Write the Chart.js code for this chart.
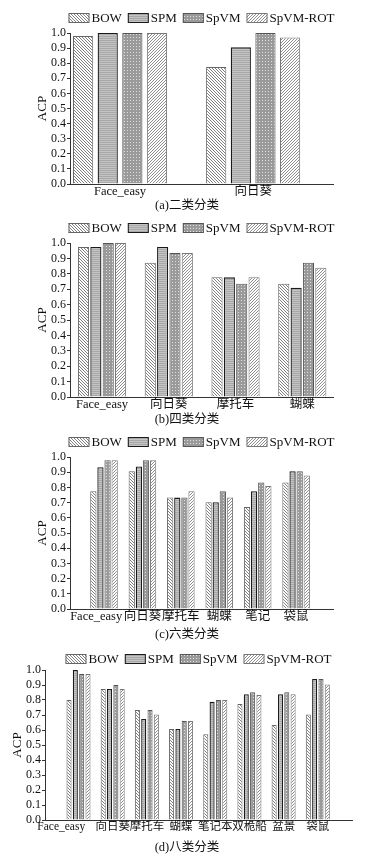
<!DOCTYPE html>
<html>
<head>
<meta charset="utf-8">
<script src="https://cdn.jsdelivr.net/npm/chart.js@4.4.0/dist/chart.umd.min.js"></script>
<style>
  html, body { margin: 0; padding: 0; background: #fff; }
  .panel { position: absolute; left: 0; width: 383px; }
</style>
</head>
<body>
<div class="panel" style="top:0;height:215px"><canvas id="chartA"></canvas></div>
<div class="panel" style="top:215px;height:215px"><canvas id="chartB"></canvas></div>
<div class="panel" style="top:430px;height:215px"><canvas id="chartC"></canvas></div>
<div class="panel" style="top:645px;height:216px"><canvas id="chartD"></canvas></div>
<script>
const seriesNames = ['BOW', 'SPM', 'SpVM', 'SpVM-ROT']

// (a) 二类分类
const catsA = ['Face_easy', '向日葵']
const bowA = [0.98, 0.775]
const spmA = [1.0, 0.905]
const spvmA = [1.0, 1.0]
const rotA = [1.0, 0.97]

// (b) 四类分类
const catsB = ['Face_easy', '向日葵', '摩托车', '蝴蝶']
const bowB = [0.974, 0.872, 0.777, 0.736]
const spmB = [0.974, 0.974, 0.777, 0.71]
const spvmB = [1.0, 0.935, 0.736, 0.872]
const rotB = [1.0, 0.935, 0.777, 0.84]

// (c) 六类分类
const catsC = ['Face_easy', '向日葵', '摩托车', '蝴蝶', '笔记', '袋鼠']
const bowC = [0.775, 0.907, 0.733, 0.702, 0.671, 0.833]
const spmC = [0.933, 0.938, 0.733, 0.702, 0.775, 0.907]
const spvmC = [0.978, 0.978, 0.733, 0.775, 0.833, 0.907]
const rotC = [0.978, 0.978, 0.775, 0.733, 0.809, 0.878]

// (d) 八类分类
const catsD = ['Face_easy', '向日葵', '摩托车', '蝴蝶', '笔记本', '双桅船', '盆景', '袋鼠']
const bowD = [0.8, 0.873, 0.733, 0.607, 0.571, 0.773, 0.633, 0.704]
const spmD = [1.0, 0.873, 0.673, 0.607, 0.789, 0.838, 0.838, 0.94]
const spvmD = [0.973, 0.9, 0.733, 0.66, 0.8, 0.851, 0.851, 0.94]
const rotD = [0.973, 0.873, 0.704, 0.66, 0.8, 0.833, 0.838, 0.904]

const FONT = '"Liberation Serif", "Noto Sans CJK SC", serif'

// petites textures pour imiter les hachures du papier
function makePattern(kind) {
  const c = document.createElement('canvas')
  const g = c.getContext('2d')
  if (kind === 'bow' || kind === 'rot') {
    c.width = 3; c.height = 3
    g.fillStyle = '#ffffff'
    g.fillRect(0, 0, 3, 3)
    g.fillStyle = kind === 'bow' ? '#808080' : '#8e8e8e'
    for (let i = 0; i < 3; i++) {
      g.fillRect(kind === 'bow' ? i : 2 - i, i, 1, 1)
    }
  } else if (kind === 'spm') {
    c.width = 2; c.height = 2
    g.fillStyle = '#c4c4c4'
    g.fillRect(0, 0, 2, 2)
    g.fillStyle = '#a8a8a8'
    g.fillRect(0, 0, 2, 1)
  } else {
    c.width = 3; c.height = 3
    g.fillStyle = '#9a9a9a'
    g.fillRect(0, 0, 3, 3)
    g.fillStyle = '#e0e0e0'
    g.fillRect(1, 1, 1, 1)
  }
  return g.createPattern(c, 'repeat')
}

const fills = [makePattern('bow'), makePattern('spm'), makePattern('spvm'), makePattern('rot')]
const borders = ['#666666', '#1a1a1a', '#555555', '#777777']

const overlay = {
  id: 'overlay',
  afterDraw(chart, args, opts) {
    const ctx = chart.ctx
    ctx.save()
    ctx.font = '13px ' + FONT
    ctx.textBaseline = 'middle'
    const widths = chart.data.datasets.map(d => 23 + ctx.measureText(d.label).width)
    const gap = 6
    const total = widths.reduce((a, b) => a + b, 0) + gap * (widths.length - 1)
    let x = (chart.chartArea.left + chart.chartArea.right) / 2 - total / 2
    chart.data.datasets.forEach((d, i) => {
      ctx.fillStyle = d.backgroundColor
      ctx.fillRect(x, opts.legendY - 5, 21, 10)
      ctx.strokeStyle = d.borderColor
      ctx.lineWidth = 1
      ctx.strokeRect(x + 0.5, opts.legendY - 4.5, 20, 9)
      ctx.fillStyle = '#111'
      ctx.textAlign = 'left'
      ctx.fillText(d.label, x + 23, opts.legendY + 1)
      x += widths[i] + gap
    })
    ctx.font = '12.5px ' + FONT
    ctx.textAlign = 'center'
    ctx.fillText(opts.caption, 187, opts.captionY)
    ctx.restore()
  }
}

const panels = [
  { id: 'chartA', cats: catsA, values: [bowA, spmA, spvmA, rotA], caption: '(a)二类分类',
    xMin: 0.624, xMax: 2.6, barPct: 0.82, height: 215, plotTop: 33, plotBottom: 184,
    left: 70, right: 333, titleX: 43, legendY: 18, captionY: 206, tickSize: 12.5, firstPad: 0 },
  { id: 'chartB', cats: catsB, values: [bowB, spmB, spvmB, rotB], caption: '(b)四类分类',
    xMin: 0.52, xMax: 4.46, barPct: 0.9, height: 215, plotTop: 28, plotBottom: 182,
    left: 70, right: 333, titleX: 43, legendY: 13, captionY: 205, tickSize: 12.5, firstPad: 0 },
  { id: 'chartC', cats: catsC, values: [bowC, spmC, spvmC, rotC], caption: '(c)六类分类',
    xMin: 0.115, xMax: 6.96, barPct: 0.88, height: 215, plotTop: 27, plotBottom: 179,
    left: 70, right: 333, titleX: 43, legendY: 12, captionY: 205, tickSize: 12.5, firstPad: 5 },
  { id: 'chartD', cats: catsD, values: [bowD, spmD, spvmD, rotD], caption: '(d)八类分类',
    xMin: 0.02, xMax: 9, barPct: 0.8, height: 216, plotTop: 25, plotBottom: 175,
    left: 45, right: 352, titleX: 18, legendY: 14, captionY: 203, tickSize: 11.5, firstPad: 12 }
]

panels.forEach(p => {
  const padLeft = p.titleX - 12
  new Chart(document.getElementById(p.id), {
    type: 'bar',
    data: {
      datasets: seriesNames.map((name, s) => ({
        label: name,
        data: p.values[s].map((v, i) => ({ x: i + 1, y: v })),
        backgroundColor: fills[s],
        borderColor: borders[s],
        borderWidth: s === 1 ? 1.3 : 1,
        categoryPercentage: 0.74,
        barPercentage: p.barPct
      }))
    },
    options: {
      responsive: true,
      maintainAspectRatio: false,
      animation: false,
      layout: {
        padding: { top: p.plotTop, left: padLeft, right: 383 - p.right, bottom: p.height - p.plotBottom - 18 }
      },
      plugins: {
        legend: { display: false },
        tooltip: { enabled: false },
        overlay: { legendY: p.legendY, captionY: p.captionY, caption: p.caption }
      },
      scales: {
        x: {
          type: 'linear',
          offset: false,
          min: p.xMin,
          max: p.xMax,
          afterFit: s => { s.height = 18 },
          afterBuildTicks: s => { s.ticks = p.cats.map((c, i) => ({ value: i + 1 })) },
          grid: { display: false, drawTicks: false },
          border: { display: true, color: '#333', width: 1 },
          ticks: {
            autoSkip: false,
            maxRotation: 0,
            padding: 0,
            color: '#111',
            font: { family: FONT, size: p.tickSize },
            callback: (v, i) => p.cats[v - 1] + (i === 0 ? ' '.repeat(p.firstPad) : '')
          }
        },
        y: {
          min: 0,
          max: 1,
          afterFit: s => { s.width = p.left - padLeft },
          grid: { drawOnChartArea: false, drawTicks: true, tickLength: 3, color: '#333' },
          border: { display: true, color: '#333', width: 1 },
          ticks: {
            stepSize: 0.1,
            autoSkip: false,
            padding: 1,
            color: '#111',
            font: { family: FONT, size: 12 },
            callback: v => v.toFixed(1)
          },
          title: {
            display: true,
            text: 'ACP',
            color: '#111',
            font: { family: FONT, size: 13 }
          }
        }
      }
    },
    plugins: [overlay]
  })
})
</script>
</body>
</html>
